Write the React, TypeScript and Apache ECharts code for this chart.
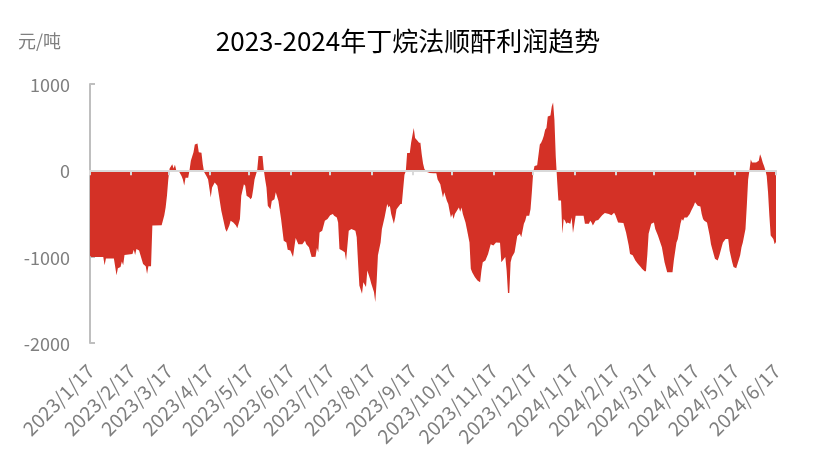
import React, { useEffect, useRef } from "react";
import * as echarts from "echarts";

const chartTitle = "2023-2024年丁烷法顺酐利润趋势";
const unitLabel = "元/吨";
const startDate = [2023, 1, 17];
const endDate = [2024, 6, 17];
const yTicks = [-2000, -1000, 0, 1000];

// [date, profit (元/吨)]
const profitPoints: [string, number][] = [
  ["2023/1/17", -990], ["2023/1/18", -1005], ["2023/1/27", -1005], ["2023/1/28", -1100], ["2023/1/29", -1020],
  ["2023/2/4", -1020], ["2023/2/6", -1215], ["2023/2/7", -1135], ["2023/2/9", -1120], ["2023/2/10", -1055],
  ["2023/2/11", -1100], ["2023/2/12", -980], ["2023/2/18", -970], ["2023/2/19", -920], ["2023/2/20", -980],
  ["2023/2/21", -910], ["2023/2/23", -930], ["2023/2/24", -980], ["2023/2/26", -1085], ["2023/2/28", -1110],
  ["2023/3/1", -1200], ["2023/3/2", -1110], ["2023/3/4", -1110], ["2023/3/5", -640], ["2023/3/12", -635],
  ["2023/3/14", -520], ["2023/3/15", -430], ["2023/3/16", -295], ["2023/3/17", -105], ["2023/3/18", 20],
  ["2023/3/20", 70], ["2023/3/21", 20], ["2023/3/22", 65], ["2023/3/23", 0], ["2023/3/25", -10],
  ["2023/3/27", -65], ["2023/3/28", -105], ["2023/3/29", -175], ["2023/3/30", -85], ["2023/4/1", -85],
  ["2023/4/2", 0], ["2023/4/3", 110], ["2023/4/5", 210], ["2023/4/6", 300], ["2023/4/8", 310],
  ["2023/4/9", 210], ["2023/4/11", 205], ["2023/4/12", 70], ["2023/4/13", -20], ["2023/4/15", -75],
  ["2023/4/16", -105], ["2023/4/18", -315], ["2023/4/19", -200], ["2023/4/21", -140], ["2023/4/23", -180],
  ["2023/4/24", -275], ["2023/4/26", -470], ["2023/4/29", -680], ["2023/4/30", -710], ["2023/5/2", -640],
  ["2023/5/3", -585], ["2023/5/5", -605], ["2023/5/7", -640], ["2023/5/8", -670], ["2023/5/10", -565],
  ["2023/5/11", -295], ["2023/5/13", -160], ["2023/5/14", -180], ["2023/5/15", -295], ["2023/5/17", -315],
  ["2023/5/18", -335], ["2023/5/19", -315], ["2023/5/20", -220], ["2023/5/21", -105], ["2023/5/23", 0],
  ["2023/5/24", 165], ["2023/5/27", 165], ["2023/5/28", 0], ["2023/5/29", -105], ["2023/5/30", -200],
  ["2023/5/31", -410], ["2023/6/2", -450], ["2023/6/3", -355], ["2023/6/5", -335], ["2023/6/6", -255],
  ["2023/6/8", -355], ["2023/6/10", -565], ["2023/6/12", -815], ["2023/6/14", -835], ["2023/6/15", -920],
  ["2023/6/17", -930], ["2023/6/19", -1005], ["2023/6/20", -890], ["2023/6/21", -785], ["2023/6/23", -855],
  ["2023/6/26", -855], ["2023/6/28", -815], ["2023/6/29", -855], ["2023/7/1", -890], ["2023/7/3", -1005],
  ["2023/7/6", -1000], ["2023/7/7", -900], ["2023/7/8", -950], ["2023/7/9", -720], ["2023/7/11", -700],
  ["2023/7/13", -585], ["2023/7/15", -565], ["2023/7/17", -520], ["2023/7/19", -505], ["2023/7/20", -525],
  ["2023/7/22", -545], ["2023/7/23", -605], ["2023/7/24", -910], ["2023/7/26", -930], ["2023/7/28", -950],
  ["2023/7/29", -1045], ["2023/7/31", -700], ["2023/8/2", -680], ["2023/8/5", -700], ["2023/8/6", -775],
  ["2023/8/7", -1065], ["2023/8/8", -1335], ["2023/8/10", -1430], ["2023/8/11", -1295], ["2023/8/13", -1350],
  ["2023/8/14", -1160], ["2023/8/16", -1255], ["2023/8/17", -1315], ["2023/8/19", -1410], ["2023/8/20", -1525],
  ["2023/8/21", -1295], ["2023/8/22", -985], ["2023/8/24", -835], ["2023/8/25", -680], ["2023/8/27", -545],
  ["2023/8/29", -390], ["2023/8/30", -430], ["2023/8/31", -410], ["2023/9/1", -505], ["2023/9/3", -620],
  ["2023/9/4", -545], ["2023/9/5", -450], ["2023/9/8", -390], ["2023/9/9", -390], ["2023/9/10", -220],
  ["2023/9/11", -50], ["2023/9/12", -10], ["2023/9/13", 200], ["2023/9/15", 200], ["2023/9/16", 320],
  ["2023/9/18", 490], ["2023/9/19", 375], ["2023/9/21", 340], ["2023/9/22", 320], ["2023/9/23", 320],
  ["2023/9/24", 185], ["2023/9/25", 80], ["2023/9/26", 15], ["2023/9/28", -20], ["2023/9/30", -30],
  ["2023/10/3", -35], ["2023/10/5", -35], ["2023/10/6", -105], ["2023/10/8", -160], ["2023/10/9", -240],
  ["2023/10/10", -315], ["2023/10/11", -255], ["2023/10/13", -355], ["2023/10/14", -390], ["2023/10/15", -470],
  ["2023/10/16", -545], ["2023/10/17", -505], ["2023/10/18", -565], ["2023/10/19", -505], ["2023/10/22", -430],
  ["2023/10/23", -480], ["2023/10/24", -430], ["2023/10/25", -505], ["2023/10/27", -605], ["2023/10/28", -680],
  ["2023/10/30", -835], ["2023/10/31", -1140], ["2023/11/1", -1180], ["2023/11/3", -1235], ["2023/11/5", -1275],
  ["2023/11/7", -1295], ["2023/11/8", -1160], ["2023/11/9", -1065], ["2023/11/11", -1045], ["2023/11/13", -970],
  ["2023/11/15", -855], ["2023/11/17", -870], ["2023/11/19", -835], ["2023/11/22", -840], ["2023/11/23", -1065],
  ["2023/11/24", -1045], ["2023/11/26", -1005], ["2023/11/27", -1160], ["2023/11/28", -1420], ["2023/11/29", -1420],
  ["2023/11/30", -1065], ["2023/12/1", -1005], ["2023/12/3", -950], ["2023/12/5", -760], ["2023/12/7", -735],
  ["2023/12/8", -775], ["2023/12/10", -620], ["2023/12/11", -585], ["2023/12/12", -525], ["2023/12/14", -525],
  ["2023/12/15", -450], ["2023/12/16", -255], ["2023/12/17", -25], ["2023/12/18", 50], ["2023/12/20", 60],
  ["2023/12/22", 300], ["2023/12/23", 320], ["2023/12/24", 355], ["2023/12/25", 400], ["2023/12/26", 470],
  ["2023/12/27", 490], ["2023/12/28", 625], ["2023/12/30", 635], ["2023/12/31", 740], ["2024/1/1", 785],
  ["2024/1/2", 590], ["2024/1/3", 165], ["2024/1/4", -105], ["2024/1/5", -350], ["2024/1/7", -350],
  ["2024/1/8", -735], ["2024/1/9", -565], ["2024/1/10", -585], ["2024/1/11", -620], ["2024/1/12", -605],
  ["2024/1/14", -620], ["2024/1/15", -545], ["2024/1/16", -725], ["2024/1/18", -525], ["2024/1/24", -525],
  ["2024/1/25", -620], ["2024/1/28", -620], ["2024/1/29", -585], ["2024/1/30", -605], ["2024/1/31", -640],
  ["2024/2/2", -585], ["2024/2/4", -575], ["2024/2/7", -520], ["2024/2/9", -495], ["2024/2/12", -505],
  ["2024/2/14", -520], ["2024/2/16", -490], ["2024/2/17", -520], ["2024/2/19", -605], ["2024/2/23", -610],
  ["2024/2/25", -720], ["2024/2/27", -870], ["2024/2/28", -970], ["2024/3/1", -985], ["2024/3/3", -1045],
  ["2024/3/5", -1085], ["2024/3/7", -1120], ["2024/3/8", -1140], ["2024/3/10", -1170], ["2024/3/11", -1170],
  ["2024/3/12", -985], ["2024/3/13", -735], ["2024/3/15", -620], ["2024/3/17", -605], ["2024/3/18", -680],
  ["2024/3/20", -755], ["2024/3/23", -890], ["2024/3/25", -1065], ["2024/3/27", -1180], ["2024/3/31", -1180],
  ["2024/4/1", -1045], ["2024/4/3", -835], ["2024/4/4", -795], ["2024/4/6", -620], ["2024/4/7", -565],
  ["2024/4/8", -585], ["2024/4/9", -545], ["2024/4/11", -545], ["2024/4/13", -505], ["2024/4/14", -470],
  ["2024/4/16", -410], ["2024/4/17", -370], ["2024/4/18", -390], ["2024/4/19", -410], ["2024/4/21", -420],
  ["2024/4/22", -505], ["2024/4/23", -565], ["2024/4/24", -585], ["2024/4/26", -605], ["2024/4/27", -680],
  ["2024/4/28", -755], ["2024/4/29", -855], ["2024/5/1", -970], ["2024/5/2", -1025], ["2024/5/4", -1045],
  ["2024/5/5", -1005], ["2024/5/7", -890], ["2024/5/8", -835], ["2024/5/10", -795], ["2024/5/12", -795],
  ["2024/5/13", -930], ["2024/5/15", -1065], ["2024/5/16", -1120], ["2024/5/18", -1135], ["2024/5/19", -1085],
  ["2024/5/21", -985], ["2024/5/22", -890], ["2024/5/23", -835], ["2024/5/25", -680], ["2024/5/26", -410],
  ["2024/5/27", -105], ["2024/5/28", 0], ["2024/5/29", 125], ["2024/5/30", 90], ["2024/6/2", 90],
  ["2024/6/4", 110], ["2024/6/5", 185], ["2024/6/6", 145], ["2024/6/7", 90], ["2024/6/8", 50],
  ["2024/6/9", 0], ["2024/6/10", -65], ["2024/6/11", -255], ["2024/6/12", -525], ["2024/6/13", -755],
  ["2024/6/14", -775], ["2024/6/15", -795], ["2024/6/16", -855], ["2024/6/17", -830],
];

function buildDailyCategories(): string[] {
  const out: string[] = [];
  const start = Date.UTC(startDate[0], startDate[1] - 1, startDate[2]);
  const end = Date.UTC(endDate[0], endDate[1] - 1, endDate[2]);
  for (let t = start; t <= end; t += 86400000) {
    const d = new Date(t);
    out.push(`${d.getUTCFullYear()}/${d.getUTCMonth() + 1}/${d.getUTCDate()}`);
  }
  return out;
}

const isMonthTick = (_i: number, v: string) => v.split("/")[2] === "17";

export default function App() {
  const ref = useRef<HTMLDivElement>(null);
  useEffect(() => {
    if (!ref.current) return;
    const chart = echarts.init(ref.current, undefined, { renderer: "svg" });
    const categories = buildDailyCategories();
    const font = "'Noto Sans CJK SC', 'Noto Sans', sans-serif";
    const gray = "#7f7f7f";
    chart.setOption({
      animation: false,
      textStyle: { fontFamily: font },
      title: {
        text: chartTitle,
        left: "center",
        top: 21,
        textStyle: { fontSize: 26, fontWeight: "normal", color: "#000", fontFamily: font },
      },
      graphic: [
        { type: "text", left: 18, top: 31, style: { text: unitLabel, fontSize: 18, fill: gray, fontFamily: font } },
      ],
      grid: { left: 90, right: 40, top: 84, bottom: 119, containLabel: false },
      xAxis: [
        {
          type: "category",
          data: categories,
          boundaryGap: false,
          z: 5,
          axisLine: { show: true, onZero: true, lineStyle: { color: "#d9d9d9", width: 2 } },
          axisTick: { show: true, interval: isMonthTick, length: 5, lineStyle: { color: "#d9d9d9", width: 2 } },
          axisLabel: { show: false },
          splitLine: { show: false },
        },
        {
          type: "category",
          data: categories,
          boundaryGap: false,
          position: "bottom",
          axisLine: { show: false, onZero: false },
          axisTick: { show: false },
          axisLabel: {
            show: true,
            interval: isMonthTick,
            rotate: 45,
            margin: 10,
            padding: [0, 10, 0, 0],
            verticalAlign: "top",
            fontSize: 19.5,
            color: gray,
            fontFamily: font,
          },
          splitLine: { show: false },
        },
      ],
      yAxis: {
        type: "value",
        min: yTicks[0],
        max: yTicks[yTicks.length - 1],
        interval: 1000,
        axisLine: { show: true, lineStyle: { color: "#bfbfbf", width: 2 } },
        axisTick: { show: true, inside: true, length: 5, lineStyle: { color: "#bfbfbf", width: 2 } },
        axisLabel: { fontSize: 18, color: gray, margin: 20, fontFamily: font, formatter: (v: number) => String(v) },
        splitLine: { show: false },
      },
      series: [
        {
          type: "line",
          xAxisIndex: 0,
          data: profitPoints,
          showSymbol: false,
          symbol: "none",
          lineStyle: { width: 0, color: "#d43126" },
          itemStyle: { color: "#d43126" },
          areaStyle: { color: "#d43126", opacity: 1 },
          z: 2,
        },
      ],
    });
    return () => chart.dispose();
  }, []);
  return (
    <div
      ref={ref}
      style={{ position: "fixed", left: 0, top: 0, width: 816, height: 462 }}
    />
  );
}
